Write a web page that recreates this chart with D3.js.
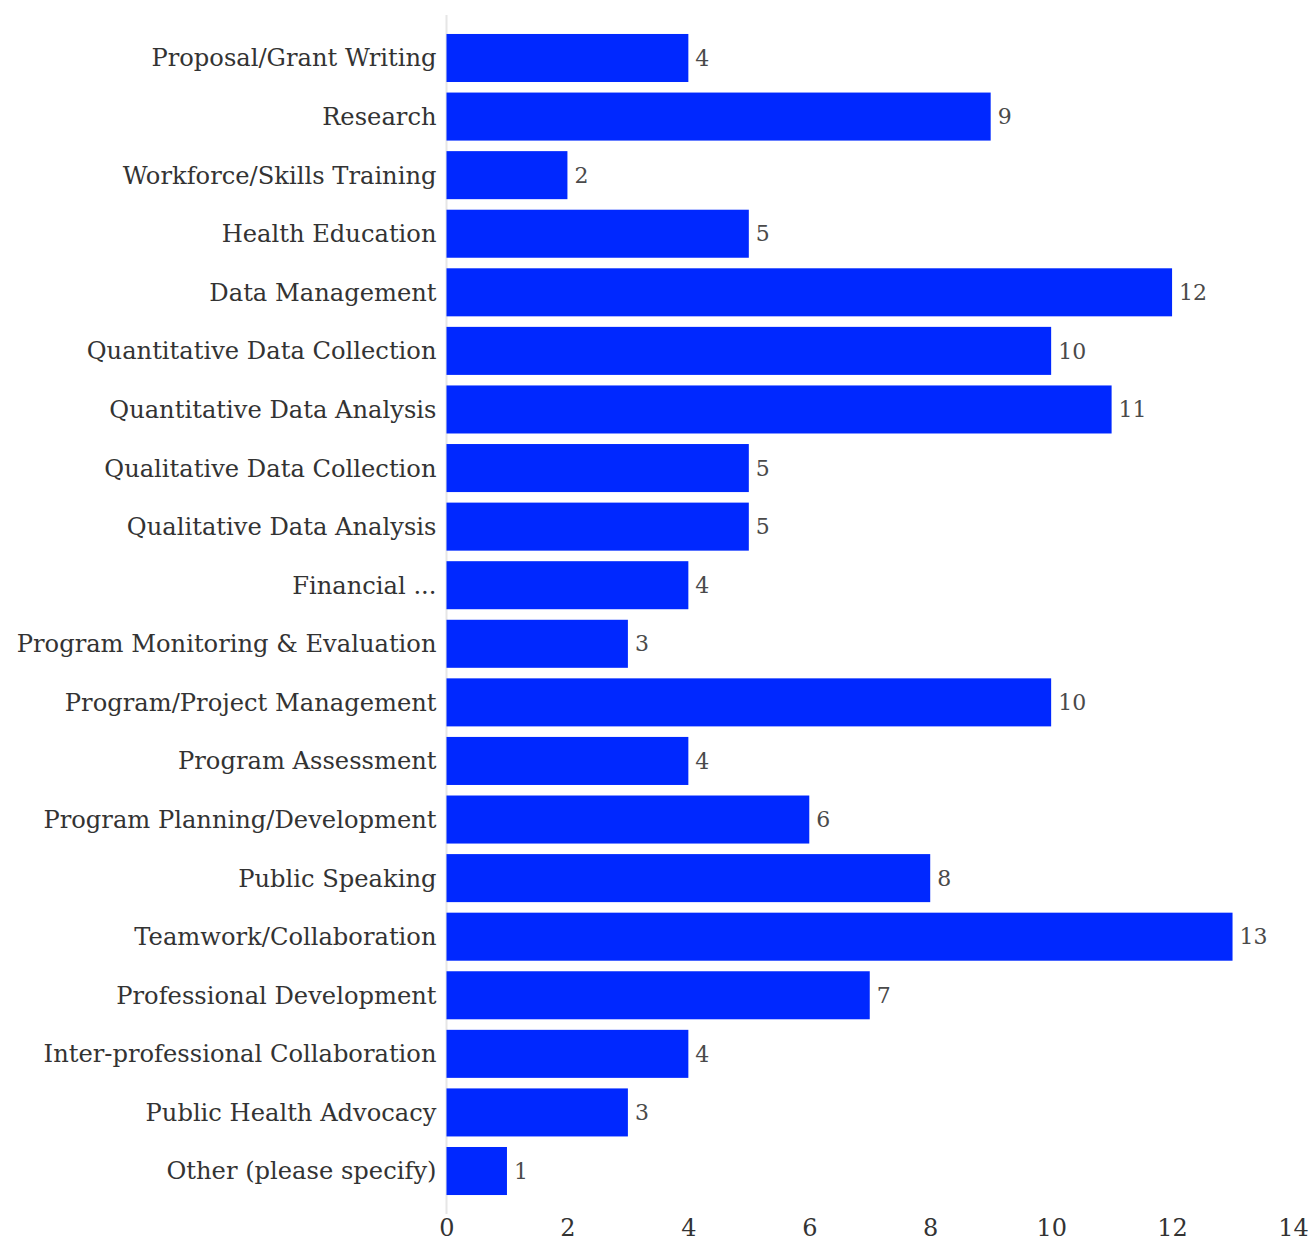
<!DOCTYPE html>
<html>
<head>
<meta charset="utf-8">
<script src="https://cdn.jsdelivr.net/npm/d3@7"></script>
<style>
  html, body { margin: 0; padding: 0; background: #fff; }
  svg { display: block; }
</style>
</head>
<body>
<svg id="chart" width="1311" height="1243"></svg>
<script>
const categories = [
  "Proposal/Grant Writing",
  "Research",
  "Workforce/Skills Training",
  "Health Education",
  "Data Management",
  "Quantitative Data Collection",
  "Quantitative Data Analysis",
  "Qualitative Data Collection",
  "Qualitative Data Analysis",
  "Financial ...",
  "Program Monitoring & Evaluation",
  "Program/Project Management",
  "Program Assessment",
  "Program Planning/Development",
  "Public Speaking",
  "Teamwork/Collaboration",
  "Professional Development",
  "Inter-professional Collaboration",
  "Public Health Advocacy",
  "Other (please specify)"
];
const values = [4, 9, 2, 5, 12, 10, 11, 5, 5, 4, 3, 10, 4, 6, 8, 13, 7, 4, 3, 1];
const xTicks = [0, 2, 4, 6, 8, 10, 12, 14];

const FONT = "'DejaVu Serif', 'Liberation Serif', serif";
const svg = d3.select("#chart");

const x = d3.scaleLinear().domain([0, 14]).range([446.5, 1293]);
const y = d3.scaleBand().domain(categories).range([28.7, 1200.3]).paddingInner(0.18).paddingOuter(0.09);

// axis line
svg.append("line")
  .attr("x1", x(0)).attr("x2", x(0))
  .attr("y1", 15).attr("y2", 1214)
  .attr("stroke", "#e6e6e6").attr("stroke-width", 2);

// bars
svg.append("g").selectAll("rect")
  .data(categories)
  .join("rect")
  .attr("x", x(0))
  .attr("y", d => y(d))
  .attr("width", (d, i) => x(values[i]) - x(0))
  .attr("height", y.bandwidth())
  .attr("fill", "#0028ff");

// value labels
svg.append("g").selectAll("text")
  .data(categories)
  .join("text")
  .attr("x", (d, i) => x(values[i]) + 7)
  .attr("y", d => y(d) + y.bandwidth() / 2)
  .attr("dy", "0.35em")
  .attr("font-family", FONT)
  .attr("font-size", 22)
  .attr("fill", "#4a4a4a")
  .text((d, i) => values[i]);

// category labels
const yAxis = d3.axisLeft(y).tickSize(0).tickPadding(10);
const gy = svg.append("g").attr("transform", `translate(${x(0)},0)`).call(yAxis);
gy.select(".domain").remove();
gy.selectAll("text")
  .attr("font-family", FONT)
  .attr("font-size", 24.2)
  .attr("fill", "#333")
  .attr("dy", "0.35em");

// x axis
const xAxis = d3.axisBottom(x).tickValues(xTicks).tickSize(0).tickPadding(0);
const gx = svg.append("g").attr("transform", `translate(0,1216)`).call(xAxis);
gx.select(".domain").remove();
gx.selectAll("text")
  .attr("font-family", FONT)
  .attr("font-size", 24)
  .attr("fill", "#333")
  .attr("dy", "0.85em");
</script>
</body>
</html>
